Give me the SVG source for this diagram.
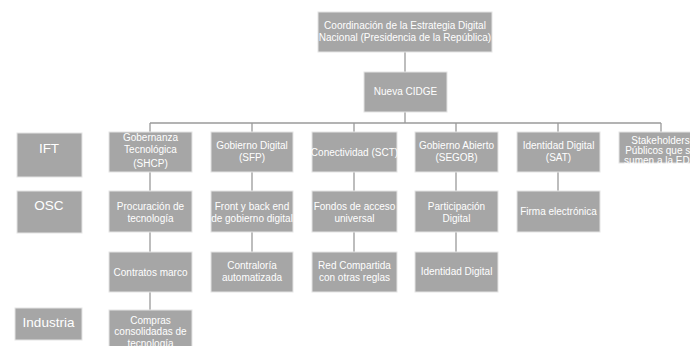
<svg xmlns="http://www.w3.org/2000/svg" width="690" height="346" viewBox="0 0 690 346">
<style>
.b{fill:#a6a6a6;stroke:#e4e4e4;stroke-width:1}
.t{font-family:"Liberation Sans",Arial,sans-serif;font-size:10px;fill:#ffffff;text-anchor:middle}
.s{font-family:"Liberation Sans",Arial,sans-serif;font-size:13.5px;fill:#ffffff;text-anchor:middle}
.c{stroke:#9a9a9a;stroke-width:1.3;fill:none}
</style>
<rect width="690" height="346" fill="#ffffff"/>
<g id="connectors" class="c">
<path d="M405 52V72M405 112V123M150 123H661M150 123V132M252 123V132M354 123V132M456 123V132M558 123V132M661 123V132"/>
<path d="M150 172V191M252 172V191M354 172V191M456 172V191M558 172V191"/>
<path d="M150 232V252M252 232V252M354 232V252M456 232V252"/>
<path d="M150 292V310"/>
</g>
<g id="coord"><rect class="b" x="318" y="12" width="174" height="40"/><text class="t" x="405" y="29">Coordinación de la Estrategia Digital</text><text class="t" x="405" y="41">Nacional (Presidencia de la República)</text></g>
<g id="cidge"><rect class="b" x="364" y="72" width="83" height="40"/><text class="t" x="405.5" y="95">Nueva CIDGE</text></g>
<g id="ift"><rect class="b" x="17" y="133" width="65" height="44"/><text class="s" x="49" y="153">IFT</text></g>
<g id="osc"><rect class="b" x="17" y="191" width="65" height="42"/><text class="s" x="49" y="210">OSC</text></g>
<g id="industria"><rect class="b" x="15" y="308" width="67" height="32"/><text class="s" x="48.5" y="327">Industria</text></g>
<g id="gob-tec"><rect class="b" x="109" y="132" width="83" height="40"/><text class="t" x="150.5" y="140.5">Gobernanza</text><text class="t" x="150.5" y="152.5">Tecnológica</text><text class="t" x="150.5" y="166.5">(SHCP)</text></g>
<g id="gob-dig"><rect class="b" x="211" y="132" width="82" height="40"/><text class="t" x="252" y="149">Gobierno Digital</text><text class="t" x="252" y="160.5">(SFP)</text></g>
<g id="conect"><rect class="b" x="312" y="132" width="85" height="40"/><text class="t" x="354.5" y="155.5">Conectividad (SCT)</text></g>
<g id="gob-ab"><rect class="b" x="415" y="132" width="83" height="40"/><text class="t" x="456.5" y="149">Gobierno Abierto</text><text class="t" x="456.5" y="160.5">(SEGOB)</text></g>
<g id="ident-sat"><rect class="b" x="517" y="132" width="83" height="40"/><text class="t" x="558.5" y="149">Identidad Digital</text><text class="t" x="558.5" y="160.5">(SAT)</text></g>
<g id="stake"><rect class="b" x="619" y="132" width="83" height="31"/><text class="t" x="660.5" y="143.5">Stakeholders</text><text class="t" x="660.5" y="154">Públicos que se</text><text class="t" x="660.5" y="164">sumen a la EDN</text></g>
<g id="procur"><rect class="b" x="109" y="191" width="83" height="41"/><text class="t" x="150.5" y="210">Procuración de</text><text class="t" x="150.5" y="222">tecnología</text></g>
<g id="front"><rect class="b" x="211" y="191" width="82" height="41"/><text class="t" x="252" y="210">Front y back end</text><text class="t" x="252" y="222">de gobierno digital</text></g>
<g id="fondos"><rect class="b" x="312" y="191" width="85" height="41"/><text class="t" x="354.5" y="210">Fondos de acceso</text><text class="t" x="354.5" y="222">universal</text></g>
<g id="partic"><rect class="b" x="415" y="191" width="83" height="41"/><text class="t" x="456.5" y="209.5">Participación</text><text class="t" x="456.5" y="221.5">Digital</text></g>
<g id="firma"><rect class="b" x="517" y="191" width="83" height="41"/><text class="t" x="558.5" y="215">Firma electrónica</text></g>
<g id="contratos"><rect class="b" x="109" y="252" width="83" height="40"/><text class="t" x="150.5" y="275.5">Contratos marco</text></g>
<g id="contral"><rect class="b" x="211" y="252" width="82" height="40"/><text class="t" x="252" y="269">Contraloría</text><text class="t" x="252" y="280.5">automatizada</text></g>
<g id="red"><rect class="b" x="312" y="252" width="85" height="40"/><text class="t" x="354.5" y="269">Red Compartida</text><text class="t" x="354.5" y="280.5">con otras reglas</text></g>
<g id="ident-dig"><rect class="b" x="415" y="252" width="83" height="40"/><text class="t" x="456.5" y="275">Identidad Digital</text></g>
<g id="compras"><rect class="b" x="109" y="310" width="83" height="40"/><text class="t" x="150.5" y="323.5">Compras</text><text class="t" x="150.5" y="335">consolidadas de</text><text class="t" x="150.5" y="346.5">tecnología</text></g>
</svg>
